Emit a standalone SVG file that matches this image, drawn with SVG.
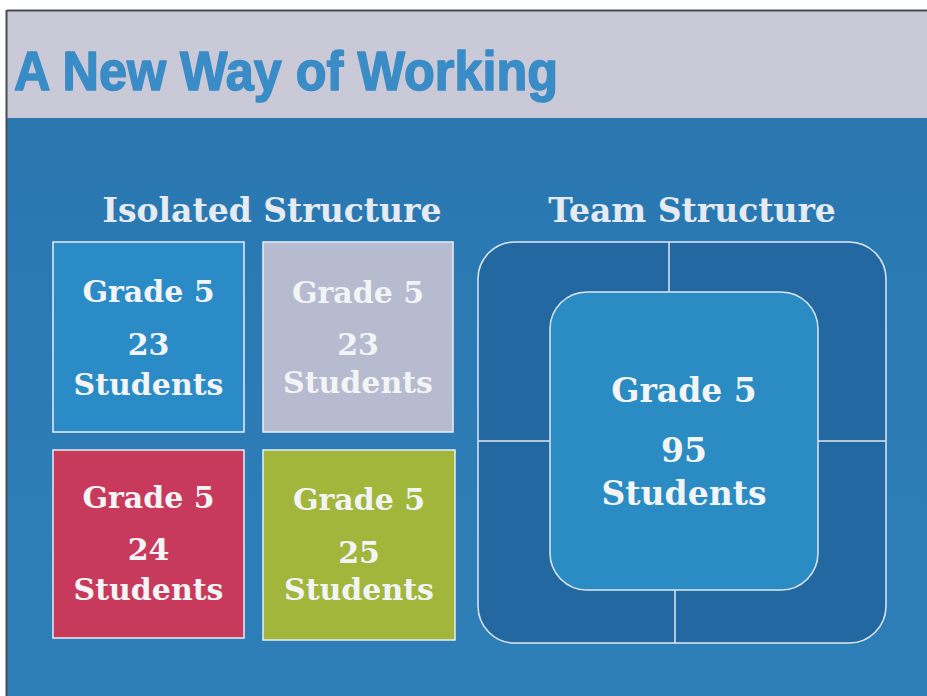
<svg xmlns="http://www.w3.org/2000/svg" width="927" height="696" viewBox="0 0 927 696">
<defs>
<style>
.t{font-family:"DejaVu Serif","Liberation Serif",serif;font-weight:bold;fill:#f2f4f6;text-anchor:middle}
.b{font-size:30px}
.h{font-size:33px;fill:#e6ebf2}
.c{font-size:33px}
.box{stroke:#e8eef4;stroke-width:1.5}
.ln{stroke:#dfe8f2;stroke-width:1.5;fill:none}
</style>
<linearGradient id="bg" x1="0" y1="0" x2="0" y2="1">
<stop offset="0" stop-color="#246ea6"/>
<stop offset="0.12" stop-color="#2a77b0"/>
<stop offset="1" stop-color="#2e7fb8"/>
</linearGradient>
</defs>
<rect x="0" y="0" width="927" height="696" fill="#ffffff"/>
<rect x="7" y="11" width="920" height="685" fill="url(#bg)"/>
<rect x="7" y="11" width="920" height="107" fill="#c9c9d7"/>
<line x1="7" y1="10.5" x2="927" y2="10.5" stroke="#4a4a55" stroke-width="2"/>
<line x1="6.5" y1="10" x2="6.5" y2="696" stroke="#4a4a55" stroke-width="2"/>
<text x="14" y="90" font-family="Liberation Sans,Arial,sans-serif" font-weight="bold" font-size="56" fill="#3a8cc6" stroke="#3a8cc6" stroke-width="1.6" stroke-linejoin="round" textLength="544" lengthAdjust="spacingAndGlyphs">A New Way of Working</text>

<text class="t h" x="272" y="222">Isolated Structure</text>
<text class="t h" x="692" y="222">Team Structure</text>

<g id="box1">
<rect class="box" x="53" y="242" width="191" height="190" fill="#2a8bc6"/>
<text class="t b" x="148.5" y="302">Grade 5</text>
<text class="t b" x="148.5" y="355">23</text>
<text class="t b" x="148.5" y="395">Students</text>
</g>
<g id="box2">
<rect class="box" x="263" y="242" width="190" height="190" fill="#b6bbcf"/>
<text class="t b" x="358" y="303">Grade 5</text>
<text class="t b" x="358" y="355">23</text>
<text class="t b" x="358" y="393">Students</text>
</g>
<g id="box3">
<rect class="box" x="53" y="450" width="191" height="188" fill="#c73a5b"/>
<text class="t b" x="148.5" y="508">Grade 5</text>
<text class="t b" x="148.5" y="560">24</text>
<text class="t b" x="148.5" y="600">Students</text>
</g>
<g id="box4">
<rect class="box" x="263" y="450" width="192" height="190" fill="#a2b63c"/>
<text class="t b" x="359" y="510">Grade 5</text>
<text class="t b" x="359" y="563">25</text>
<text class="t b" x="359" y="600">Students</text>
</g>

<g id="team">
<rect x="478" y="242" width="408" height="401" rx="37" fill="#2368a0" stroke="#dfe8f2" stroke-width="1.5"/>
</g>
<g id="connectors">
<line class="ln" x1="669" y1="242" x2="669" y2="292"/>
<line class="ln" x1="478" y1="441" x2="550" y2="441"/>
<line class="ln" x1="818" y1="441" x2="886" y2="441"/>
<line class="ln" x1="675" y1="590" x2="675" y2="643"/>
</g>
<g id="center">
<rect x="550" y="292" width="268" height="298" rx="37" fill="#2a8cc2" stroke="#dfe8f2" stroke-width="1.5"/>
<text class="t c" x="684" y="402">Grade 5</text>
<text class="t c" x="684" y="462">95</text>
<text class="t c" x="684" y="505">Students</text>
</g>
</svg>
